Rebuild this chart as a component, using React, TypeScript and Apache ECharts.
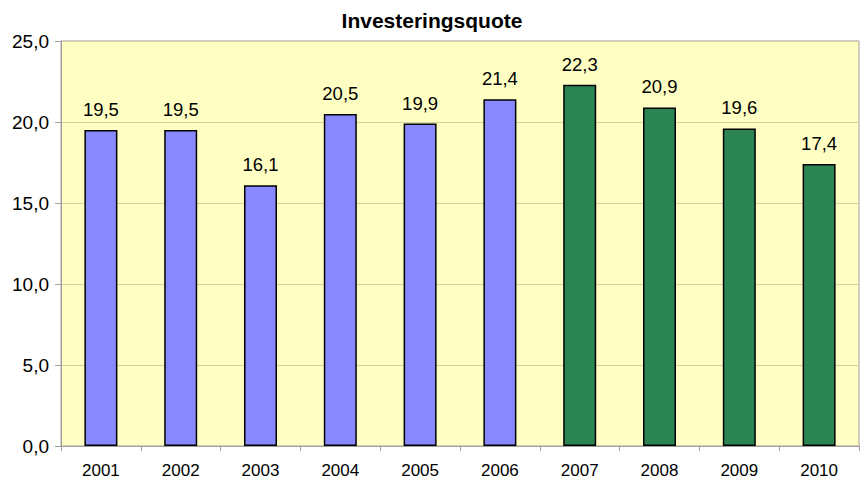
import React, { useEffect, useRef } from "react";
import * as echarts from "echarts";

const categories = ["2001", "2002", "2003", "2004", "2005", "2006", "2007", "2008", "2009", "2010"];
const values = [19.5, 19.5, 16.1, 20.5, 19.9, 21.4, 22.3, 20.9, 19.6, 17.4];
const colors = ["#8888FF", "#8888FF", "#8888FF", "#8888FF", "#8888FF", "#8888FF", "#2A8553", "#2A8553", "#2A8553", "#2A8553"];
const yTicks = { min: 0, max: 25, interval: 5 };
const title = "Investeringsquote";

const FONT = "Liberation Sans, Arial, sans-serif";

export default function App() {
  const ref = useRef<HTMLDivElement>(null);
  useEffect(() => {
    if (!ref.current) return;
    const chart = echarts.init(ref.current, null, { renderer: "svg" });
    chart.setOption({
      animation: false,
      backgroundColor: "#ffffff",
      textStyle: { fontFamily: FONT },
      title: {
        text: title,
        left: "center",
        top: 5,
        textStyle: { fontSize: 21, fontWeight: "bold", color: "#000", fontFamily: FONT },
      },
      grid: {
        left: 61,
        right: 5,
        top: 41,
        bottom: 38,
        show: true,
        backgroundColor: "#FFFFC4",
        borderColor: "#A0A0A0",
        borderWidth: 1,
        containLabel: false,
      },
      xAxis: {
        type: "category",
        data: categories,
        axisLine: { lineStyle: { color: "#A0A0A0", width: 1 } },
        axisTick: { show: true, alignWithLabel: false, length: 5, lineStyle: { color: "#A0A0A0" } },
        axisLabel: { color: "#000", fontSize: 17, margin: 16, fontFamily: FONT },
      },
      yAxis: {
        type: "value",
        min: yTicks.min,
        max: yTicks.max,
        interval: yTicks.interval,
        axisLine: { show: true, lineStyle: { color: "#A0A0A0", width: 1 } },
        axisTick: { show: true, length: 6, lineStyle: { color: "#A0A0A0" } },
        splitLine: { show: true, lineStyle: { color: "#D4D0A0", width: 1 } },
        axisLabel: {
          color: "#000",
          fontSize: 19,
          margin: 12,
          fontFamily: FONT,
          formatter: (v: number) => v.toFixed(1).replace(".", ","),
        },
      },
      series: [
        {
          type: "bar",
          data: values.map((v, i) => ({ value: v, itemStyle: { color: colors[i] } })),
          barWidth: 33,
          itemStyle: { borderColor: "#000", borderWidth: 1.5 },
          label: {
            show: true,
            position: "top",
            distance: 11,
            color: "#000",
            fontSize: 18.5,
            fontFamily: FONT,
            formatter: (p: any) => Number(p.value).toFixed(1).replace(".", ","),
          },
        },
      ],
    });
    return () => chart.dispose();
  }, []);
  return <div ref={ref} style={{ width: 864, height: 484, position: "absolute", left: 0, top: 0 }} />;
}
